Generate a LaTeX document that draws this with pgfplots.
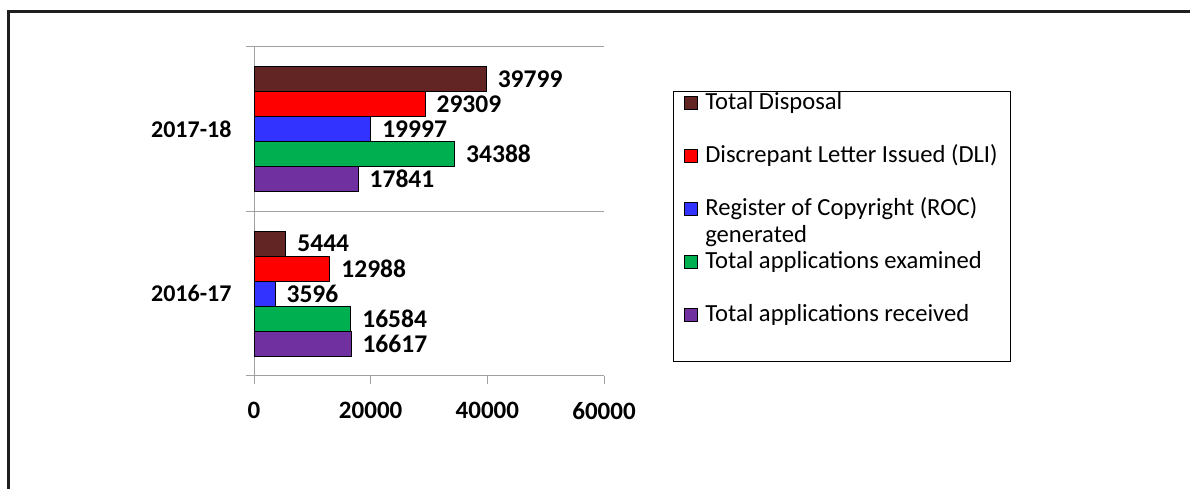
\documentclass[border=0pt]{standalone}
\usepackage{fontspec}
\setmainfont{Carlito}
\usepackage{pgfplots}
\pgfplotsset{compat=1.18}
\definecolor{cDisp}{HTML}{632523}
\definecolor{cDLI}{HTML}{FF0000}
\definecolor{cROC}{HTML}{3333FF}
\definecolor{cExam}{HTML}{00B050}
\definecolor{cRecv}{HTML}{7030A0}
\definecolor{axgray}{HTML}{A0A0A0}
\pgfplotsset{
  mybar/.style={xbar, bar width=0.152, fill=#1, draw=black, line width=0.6pt,
    legend image code/.code={\draw[fill=#1, draw=black, line width=0.6pt] (0pt,-5pt) rectangle (13pt,8pt);}},
  nshift/.style={every node near coord/.append style={yshift=#1}},
}
\begin{document}
\begin{tikzpicture}
\useasboundingbox (0,0) rectangle (1190pt,489pt);
\fill[white] (0,0) rectangle (1190pt,489pt);
\draw[line width=3pt, color=black!88] (8pt,-3pt) -- (8pt,477pt) -- (1193pt,477pt);
\begin{axis}[
  scale only axis, width=350pt, height=329pt,
  at={(254pt,113pt)}, anchor=south west,
  xmin=0, xmax=60000, ymin=-0.5, ymax=1.5,
  axis x line=bottom, axis y line=left,
  axis line style={-, draw=axgray, line width=1pt},
  xtick={0,20000,40000,60000},
  scaled x ticks=false,
  /pgf/number format/1000 sep={},
  /pgf/number format/assume math mode=true,
  ytick={0,1}, yticklabels={2016-17,2017-18},
  minor ytick={-0.5,0.5,1.5},
  yminorgrids, minor grid style={draw=axgray, line width=1pt},
  tick align=outside,
  major tick length=8pt, minor tick length=8pt,
  tick style={draw=axgray, line width=1pt},
  every major y tick/.append style={draw=none},
  ticklabel style={font=\bfseries\fontsize{24}{27}\selectfont},
  xticklabel style={yshift=-15pt, font=\bfseries\fontsize{25}{27}\selectfont},
  yticklabel style={xshift=-11pt},
  nodes near coords,
  point meta=x,
  every node near coord/.append style={anchor=west, font=\bfseries\fontsize{25.5}{27}\selectfont, xshift=8pt, color=black},
  legend style={at={(1.1971,0.8663)}, anchor=north west, draw=black, line width=1.5pt,
    font=\fontsize{24.6}{27}\selectfont, nodes={inner sep=0pt, text height=16pt, text depth=6pt},
    inner xsep=10pt, inner ysep=2pt,
    row sep=31pt, /tikz/every odd column/.append style={column sep=8pt}},
  legend cell align=left,
]
\addplot[mybar=cDisp, bar shift=0.304, nshift=50pt] coordinates {(5444,0) (39799,1)};
\addlegendentry{Total Disposal}
\addplot[mybar=cDLI, bar shift=0.152, nshift=25pt] coordinates {(12988,0) (29309,1)};
\addlegendentry{Discrepant Letter Issued (DLI)\hspace*{3pt}}
\addplot[mybar=cROC, bar shift=0] coordinates {(3596,0) (19997,1)};
\addlegendentry{\smash{\begin{tabular}[t]{@{}l@{}}Register of Copyright (ROC)\\generated\end{tabular}}}
\addplot[mybar=cExam, bar shift=-0.152, nshift=-25pt] coordinates {(16584,0) (34388,1)};
\addlegendentry{Total applications examined}
\addplot[mybar=cRecv, bar shift=-0.304, nshift=-50pt] coordinates {(16617,0) (17841,1)};
\addlegendentry{Total applications received}
\addlegendimage{empty legend}
\addlegendentry[text height=0pt, text depth=-10pt]{}
\end{axis}
\end{tikzpicture}
\end{document}
